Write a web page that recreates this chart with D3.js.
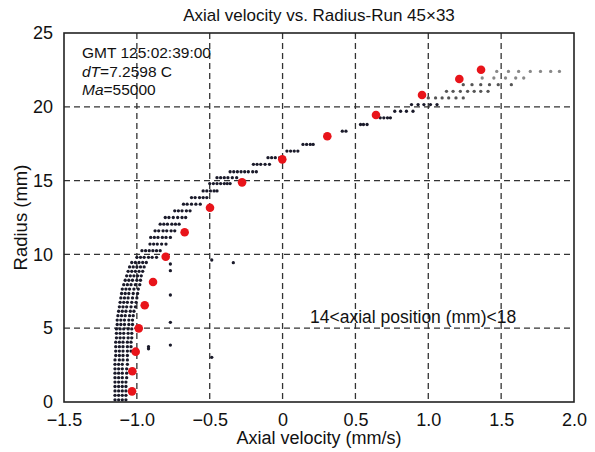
<!DOCTYPE html>
<html><head><meta charset="utf-8">
<script src="https://cdn.jsdelivr.net/npm/d3@7"></script>
<style>body{margin:0;background:#fff;}svg{display:block;font-family:"Liberation Sans",Arial,sans-serif;}</style>
</head><body>
<svg id="c" width="595" height="452"></svg>
<script>
const xTicks = [-1.5,-1.0,-0.5,0,0.5,1.0,1.5,2.0];
const yTicks = [0,5,10,15,20,25];
// red fitted points [velocity, radius]
const redVel = [-1.033,-1.031,-1.008,-0.987,-0.946,-0.889,-0.802,-0.672,-0.498,-0.278,-0.002,0.307,0.641,0.957,1.213,1.362];
const redRad = [0.72,2.08,3.41,4.99,6.55,8.13,9.84,11.50,13.16,14.88,16.44,18.00,19.44,20.80,21.88,22.51];
// measured rows: radius, followed by velocities
const rowRad = [0.15,0.45,0.75,1.05,1.35,1.65,1.95,2.25,2.55,2.85,3.15,3.45,3.75,4.05,4.35,4.65,4.95,5.25,5.55,5.85,6.15,6.45,6.75,7.05,7.35,7.65,7.95,8.25,8.55,8.85,9.15,9.45,9.8,10.25,10.7,11.15,11.6,12.05,12.5,12.95,13.4,13.85,14.3,14.8,15.2,15.6,16.1,16.55,17.0,17.45,18.35,18.8,19.25,19.7,20.15,20.6,21.05,21.5,21.95,22.4];
const rowVel = [
 [-1.15,-1.125,-1.10,-1.075],
 [-1.15,-1.125,-1.10,-1.075],
 [-1.15,-1.125,-1.10,-1.075],
 [-1.15,-1.125,-1.10,-1.075],
 [-1.15,-1.125,-1.10,-1.075],
 [-1.15,-1.125,-1.10,-1.07],
 [-1.15,-1.125,-1.10,-1.07],
 [-1.15,-1.125,-1.10,-1.07],
 [-1.15,-1.125,-1.10,-1.065],
 [-1.15,-1.12,-1.095,-1.065],
 [-1.145,-1.12,-1.095,-1.065],
 [-1.145,-1.12,-1.095,-1.065,-1.04],
 [-1.145,-1.12,-1.095,-1.065,-1.04],
 [-1.145,-1.12,-1.095,-1.065,-1.04],
 [-1.14,-1.115,-1.09,-1.06,-1.035],
 [-1.14,-1.115,-1.09,-1.06,-1.035],
 [-1.14,-1.115,-1.09,-1.06,-1.035],
 [-1.135,-1.11,-1.085,-1.055,-1.03],
 [-1.135,-1.11,-1.085,-1.055,-1.03],
 [-1.13,-1.105,-1.08,-1.05,-1.025],
 [-1.125,-1.10,-1.075,-1.045,-1.02],
 [-1.12,-1.095,-1.07,-1.04,-1.01],
 [-1.115,-1.09,-1.065,-1.035,-1.005],
 [-1.11,-1.085,-1.06,-1.03,-1.0],
 [-1.105,-1.08,-1.055,-1.025,-0.995],
 [-1.10,-1.075,-1.05,-1.02,-0.99],
 [-1.09,-1.065,-1.04,-1.01,-0.98],
 [-1.08,-1.055,-1.03,-1.0,-0.975],
 [-1.07,-1.045,-1.02,-0.995,-0.97],
 [-1.06,-1.035,-1.01,-0.985,-0.96],
 [-1.05,-1.025,-1.0,-0.975,-0.95],
 [-1.035,-1.01,-0.985,-0.96,-0.935],
 [-1.0,-0.975,-0.95,-0.92,-0.895,-0.865],
 [-0.965,-0.94,-0.915,-0.89,-0.865,-0.84],
 [-0.91,-0.885,-0.86,-0.83,-0.80],
 [-0.905,-0.88,-0.855,-0.825,-0.80,-0.77],
 [-0.875,-0.85,-0.82,-0.795,-0.765,-0.74],
 [-0.84,-0.815,-0.79,-0.76,-0.735,-0.71],
 [-0.805,-0.78,-0.75,-0.72,-0.69,-0.665],
 [-0.74,-0.715,-0.69,-0.66,-0.635],
 [-0.68,-0.655,-0.625,-0.595,-0.565],
 [-0.625,-0.60,-0.57,-0.545,-0.52],
 [-0.545,-0.52,-0.495,-0.47,-0.45],
 [-0.50,-0.475,-0.45,-0.425,-0.40,-0.38,-0.36],
 [-0.45,-0.425,-0.40,-0.375,-0.345,-0.315],
 [-0.36,-0.335,-0.31,-0.285,-0.26,-0.235,-0.205,-0.18],
 [-0.20,-0.175,-0.15,-0.12,-0.09],
 [-0.10,-0.075,-0.05,-0.02],
 [0.03,0.055,0.08,0.105],
 [0.14,0.165,0.19,0.21],
 [0.41,0.435],
 [0.535,0.555,0.58],
 [0.67,0.695,0.72,0.74],
 [0.77,0.81,0.85,0.895],
 [0.885,0.93,0.97,1.015,1.06],
 [1.0,1.05,1.095,1.14,1.19,1.24],
 [1.125,1.17,1.22,1.27,1.315,1.36,1.41],
 [1.24,1.30,1.36,1.42,1.48,1.57],
 [1.37,1.45,1.53,1.60,1.655],
 [1.47,1.55,1.62,1.70,1.77,1.84,1.90]
];
// isolated measured points
const strayVel = [-0.77,-0.77,-0.77,-0.486,-0.338,-0.77,-0.77,-0.92,-0.92,-0.486];
const strayRad = [9.35,8.9,7.25,9.62,9.44,5.4,3.86,3.75,3.6,3.03];
const notes = ["GMT 125:02:39:00","dT=7.2598 C","Ma=55000"];

const svg = d3.select("#c");
const m = {l:64, r:574, t:33, b:402};
const x = d3.scaleLinear().domain([-1.5,2.0]).range([m.l,m.r]);
const y = d3.scaleLinear().domain([0,25]).range([m.b,m.t]);

// grid
const grid = svg.append("g").attr("stroke","#333").attr("stroke-width",1.3).attr("stroke-dasharray","6,4");
grid.selectAll("line.v").data(xTicks.slice(1,-1)).join("line")
  .attr("x1",d=>x(d)).attr("x2",d=>x(d)).attr("y1",m.t).attr("y2",m.b);
grid.selectAll("line.h").data(yTicks.slice(1,-1)).join("line")
  .attr("x1",m.l).attr("x2",m.r).attr("y1",d=>y(d)).attr("y2",d=>y(d));

// axes
const xa = svg.append("g").attr("transform",`translate(0,${m.b})`)
  .call(d3.axisBottom(x).tickValues(xTicks).tickSize(0).tickPadding(11).tickFormat(d=>d===0?"0":d3.format(".1f")(d).replace("-","\u2212")));
const ya = svg.append("g").attr("transform",`translate(${m.l},0)`)
  .call(d3.axisLeft(y).tickValues(yTicks).tickSize(0).tickPadding(11));
[xa,ya].forEach(a=>{a.select(".domain").remove();a.selectAll("text").attr("font-size",18).attr("fill","#111").attr("font-family","Liberation Sans, Arial, sans-serif");});

// points
const pts = [];
rowRad.forEach((r,i)=>rowVel[i].forEach(v=>pts.push([v,r])));
strayVel.forEach((v,i)=>pts.push([v,strayRad[i]]));
svg.append("g").selectAll("circle").data(pts).join("circle")
  .attr("cx",d=>x(d[0])).attr("cy",d=>y(d[1])).attr("r",1.65)
  .attr("fill",d=>d[1]>21.7?"#888":(d[1]>20.4?"#555":"#1a1a2a"));

svg.append("g").selectAll("circle").data(redVel).join("circle")
  .attr("cx",d=>x(d)).attr("cy",(d,i)=>y(redRad[i])).attr("r",4.3)
  .attr("fill","#e8141a");

// frame
svg.append("rect").attr("x",m.l).attr("y",m.t).attr("width",m.r-m.l).attr("height",m.b-m.t)
  .attr("fill","none").attr("stroke","#222").attr("stroke-width",1.6);

// texts
svg.append("text").attr("x",(m.l+m.r)/2).attr("y",21).attr("text-anchor","middle")
  .attr("font-size",17).attr("fill","#111").text("Axial velocity vs. Radius-Run 45\u00d733");
svg.append("text").attr("x",(m.l+m.r)/2).attr("y",444).attr("text-anchor","middle")
  .attr("font-size",18).attr("fill","#111").text("Axial velocity (mm/s)");
svg.append("text").attr("transform",`translate(27,${(m.t+m.b)/2}) rotate(-90)`).attr("text-anchor","middle")
  .attr("font-size",18.5).attr("fill","#111").text("Radius (mm)");

const ann = svg.append("g").attr("font-size",15.5).attr("fill","#111");
ann.append("text").attr("x",82).attr("y",58).text(notes[0]);
const t2 = ann.append("text").attr("x",82).attr("y",76.5);
t2.append("tspan").attr("font-style","italic").text("dT");
t2.append("tspan").text(notes[1].slice(2));
const t3 = ann.append("text").attr("x",82).attr("y",95);
t3.append("tspan").attr("font-style","italic").text("Ma");
t3.append("tspan").text(notes[2].slice(2));
svg.append("text").attr("x",310).attr("y",323).attr("font-size",17.5).attr("fill","#111")
  .text("14<axial position (mm)<18");
</script>
</body></html>
